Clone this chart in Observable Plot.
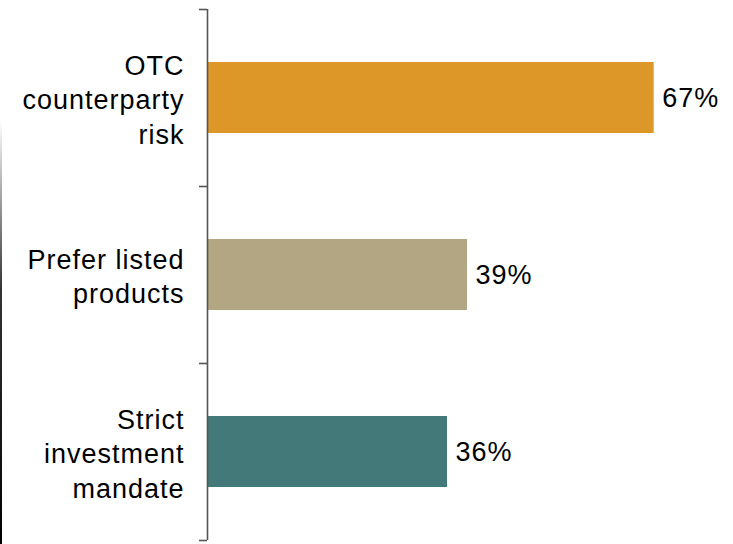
<!DOCTYPE html>
<html>
<head>
<meta charset="utf-8">
<script src="https://cdn.jsdelivr.net/npm/d3@7"></script>
<script src="https://cdn.jsdelivr.net/npm/@observablehq/plot@0.6"></script>
<style>
  html, body { margin: 0; padding: 0; background: #fff; }
  #wrap { position: relative; width: 733px; height: 544px; overflow: hidden; }
  #edge { position: absolute; left: 0; top: 120px; width: 1.5px; height: 424px;
          background: linear-gradient(to bottom, rgba(0,0,0,0), rgba(0,0,0,0.8) 40%, #000); }
  svg text { letter-spacing: 1px; }
</style>
</head>
<body>
<div id="wrap"><div id="edge"></div></div>
<script>
const categories = ["OTC\ncounterparty\nrisk", "Prefer listed\nproducts", "Strict\ninvestment\nmandate"];
const values = [67, 39, 36];
const valueLabels = ["67%", "39%", "36%"];
const colors = ["#DD9628", "#B3A683", "#437A79"];

const data = categories.map((c, i) => ({cat: c, value: values[i], label: valueLabels[i], color: colors[i]}));

const W = 733, H = 544;
const mTop = 9, mBottom = 4, mLeft = 207;
const step = (H - mTop - mBottom) / categories.length;
const xMax = 78.9;
const pxPerUnit = (W - mLeft) / xMax;
const tickLen = 8 / pxPerUnit;

const chart = Plot.plot({
  width: W,
  height: H,
  marginTop: mTop,
  marginBottom: mBottom,
  marginLeft: mLeft,
  marginRight: 0,
  style: {fontFamily: "Liberation Sans, Arial, sans-serif", fontSize: "27px", color: "#000", background: "#fff"},
  x: {domain: [0, xMax], axis: null},
  y: {domain: categories, paddingInner: 0.6, paddingOuter: 0.3, axis: null},
  marks: [
    Plot.barX(data, {y: "cat", x: "value", fill: "color"}),
    Plot.text(data, {y: "cat", x: "value", text: "label", textAnchor: "start", dx: 8, fontSize: 27, fill: "#000"}),
    Plot.text(data, {y: "cat", frameAnchor: "left", text: "cat", textAnchor: "end", dx: -23, fontSize: 27, lineHeight: 1.28, fill: "#000"}),
    Plot.ruleX([0], {stroke: "#555", strokeWidth: 1.6}),
    // boundary ticks: top edge of each band, plus bottom edge of last band
    Plot.ruleY(data, {y: "cat", x1: -tickLen, x2: 0, dy: -step / 2, stroke: "#555", strokeWidth: 1.6}),
    Plot.ruleY(data.slice(-1), {y: "cat", x1: -tickLen, x2: 0, dy: step / 2, stroke: "#555", strokeWidth: 1.6})
  ]
});

document.getElementById("wrap").appendChild(chart);
</script>
</body>
</html>
